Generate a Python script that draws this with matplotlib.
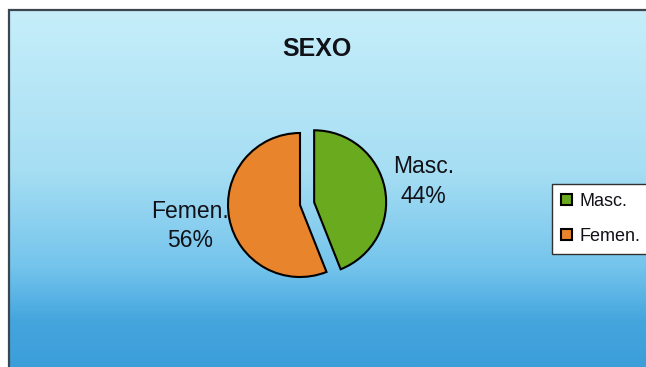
import numpy as np
import matplotlib
matplotlib.use("Agg")
import matplotlib.pyplot as plt
from matplotlib.colors import LinearSegmentedColormap
from matplotlib.patches import Rectangle

plt.rcParams['font.family'] = ['Liberation Sans', 'DejaVu Sans']

# datos
categorias = ['Masc.', 'Femen.']
porcentajes = [44, 56]
colores = ['#6aaa1e', '#e8842c']
explode = [0.2, 0.0]
titulo = 'SEXO'

W, H = 646, 367
fig = plt.figure(figsize=(W / 100, H / 100), dpi=100)
fig.patch.set_facecolor('white')

# fondo con degradado
fondo = LinearSegmentedColormap.from_list('fondo', [
    (0.0, '#c6eefa'),
    (0.45, '#a6def3'),
    (0.72, '#74c4ec'),
    (0.87, '#45a6de'),
    (1.0, '#3c9ed9'),
])
x0, y0 = 9, 10
ax_bg = fig.add_axes([x0 / W, 0, 1 - x0 / W, 1 - y0 / H])
ax_bg.imshow(np.linspace(0, 1, 256).reshape(-1, 1), cmap=fondo, aspect='auto',
             extent=[0, 1, 0, 1])
ax_bg.set_axis_off()
fig.patches.append(Rectangle((x0 / W, -0.1), 1.2, 1 - y0 / H + 0.1,
                             transform=fig.transFigure, fill=False,
                             edgecolor='#3c4650', linewidth=1.6, zorder=5))

# pastel
cx, cy, r = 300, 205, 72
ax = fig.add_axes([(cx - 2 * r) / W, (H - cy - 2 * r) / H, 4 * r / W, 4 * r / H])
ax.set_facecolor('none')
etiquetas = [f'{c}\n{p}%' for c, p in zip(categorias, porcentajes)]
wedges, textos = ax.pie(porcentajes, labels=etiquetas, colors=colores,
                        explode=explode, startangle=90, counterclock=False,
                        labeldistance=1.55,
                        wedgeprops=dict(edgecolor='black', linewidth=1.5),
                        textprops=dict(ha='center', fontsize=16.5,
                                       color='#111118', linespacing=1.35))
ax.set_xlim(-2, 2)
ax.set_ylim(-2, 2)
ax.set_aspect('equal')
ax.set_axis_off()

fig.text(317 / W, 1 - 49 / H, titulo, ha='center', va='center',
         fontsize=18, fontweight='bold', color='#111118')

leg = fig.legend(wedges, categorias, loc='upper left',
                 bbox_to_anchor=(552 / W, 1 - 184 / H), fontsize=13,
                 frameon=True, fancybox=False, edgecolor='#303030',
                 facecolor='white', framealpha=1, handlelength=0.6,
                 handleheight=0.6, handletextpad=0.4, borderpad=0.5,
                 labelspacing=1.0, borderaxespad=0)
leg.get_frame().set_linewidth(1.0)
for t in leg.get_texts():
    t.set_color('#111118')

fig.savefig('out.png', dpi=100)
